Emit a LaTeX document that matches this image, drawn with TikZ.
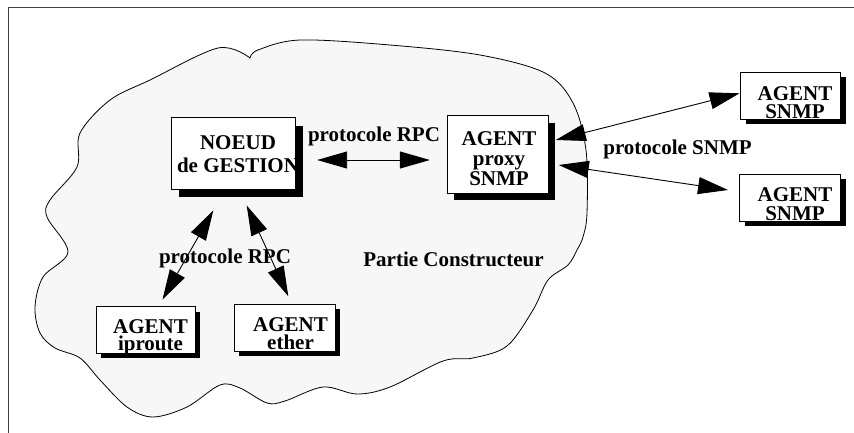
\documentclass[tikz,border=0pt]{standalone}
\usepackage{fontspec}
\setmainfont{Liberation Serif}
\usetikzlibrary{arrows.meta}
\definecolor{cloudgray}{HTML}{F7F7F7}
\definecolor{framegray}{HTML}{404040}

\begin{document}
\begin{tikzpicture}[x=1pt,y=-1pt,
  lbl/.style={font=\bfseries\fontsize{21}{21}\selectfont, inner sep=0pt},
  box/.style={draw=black, line width=0.9pt, fill=white, inner sep=0pt},
  shad/.style 2 args={preaction={fill=black, draw=none,
      transform canvas={shift={(#1pt,-#2pt)}}}},
  arr/.style={line width=0.9pt,
    {Triangle[length=30pt,width=17pt]}-{Triangle[length=30pt,width=17pt]}},
]
\useasboundingbox (0,0) rectangle (854,432);
\fill[white] (0,0) rectangle (854,432);

% outer frame (only the top and left edges fall inside the page)
\draw[framegray, line width=1.1pt] (8.5,440) -- (8.5,7.5) -- (870,7.5);

% the "Partie Constructeur" cloud
\draw[fill=cloudgray, line width=0.8pt]
  plot[smooth, tension=0.55] coordinates {
    (250,58) (258,50) (300,40) (390,45) (480,55) (545,73) (573,103)
    (586,150) (587,213) (583,237) (577,250) (568,265) (548,280)
    (533,310) (507,346) (473,358) (443,361) (390,387) (357,394)
    (323,387) (285,401) (267,403) (240,388) (220,385) (187,407)
    (153,417) (127,407) (100,380) (80,358) (55,348) (40,333) (35,307)
    (43,277) (68,252) (47,217) (50,200) (77,167) (80,133) (110,100)
    (150,80) (218,48) (250,58)} -- cycle;

% boxes
\node[box, shad={7}{8}, minimum width=124pt, minimum height=71.6pt] (noeud) at (233.7,153.5) {};
\node[box, shad={6.5}{7}, minimum width=101pt, minimum height=77.6pt] (proxy) at (497.8,154.5) {};
\node[box, shad={5}{4.5}, minimum width=100pt, minimum height=46.6pt] (snmpa) at (790.5,96) {};
\node[box, shad={5}{4.5}, minimum width=101pt, minimum height=46.7pt] (snmpb) at (790,197.7) {};
\node[box, shad={4.5}{5}, minimum width=99pt, minimum height=46.6pt] (iproute) at (145.5,330) {};
\node[box, shad={4.5}{4.5}, minimum width=100.7pt, minimum height=47.4pt] (ether) at (284.7,328) {};

% box texts (base anchor = baseline of the last line)
\node[lbl, align=center, anchor=base, font=\bfseries\fontsize{21}{23.5}\selectfont] (noeudtxt) at (238,172.7) {NOEUD\\de GESTION};
\node[lbl, align=center, anchor=base, font=\bfseries\fontsize{21}{20}\selectfont] (proxytxt) at (499,185) {AGENT\\proxy\\SNMP};
\node[lbl, align=center, anchor=base, font=\bfseries\fontsize{21}{18.3}\selectfont] (snmpatxt) at (795,118.3) {AGENT\\SNMP};
\node[lbl, align=center, anchor=base, font=\bfseries\fontsize{21}{18.3}\selectfont] (snmpbtxt) at (795,220) {AGENT\\SNMP};
\node[lbl, align=center, anchor=base, font=\bfseries\fontsize{21}{16.7}\selectfont] (iproutetxt) at (150.5,350) {AGENT\\iproute};
\node[lbl, align=center, anchor=base, font=\bfseries\fontsize{21}{17.3}\selectfont] (ethertxt) at (290.5,349) {AGENT\\ether};

% connectors
\draw[arr] ([xshift=21pt,yshift=-6.5pt]noeud.east) -- ([xshift=-17pt,yshift=-5.5pt]proxy.west);
\draw[arr] ([xshift=-20.4pt,yshift=-20.7pt]noeud.south) -- ([xshift=17pt,yshift=6.7pt]iproute.north);
\draw[arr] ([xshift=13pt,yshift=-15.7pt]noeud.south) -- ([xshift=3.6pt,yshift=7.6pt]ether.north);
\draw[arr] ([xshift=7pt,yshift=14.5pt]proxy.east) -- ([xshift=-0.5pt,yshift=2.7pt]snmpa.west);
\draw[arr] ([xshift=10pt,yshift=-10.5pt]proxy.east) -- ([xshift=-11pt,yshift=7.7pt]snmpb.west);

% connector labels
\node[lbl, anchor=base] (rpctop) at (374,141) {protocole RPC};
\node[lbl, anchor=base] (rpclow) at (225,263.3) {protocole RPC};
\node[lbl, anchor=base] (snmplbl) at (677.5,154) {protocole SNMP};
\node[lbl, anchor=base] (partie) at (453.5,266) {Partie Constructeur};
\end{tikzpicture}
\end{document}
